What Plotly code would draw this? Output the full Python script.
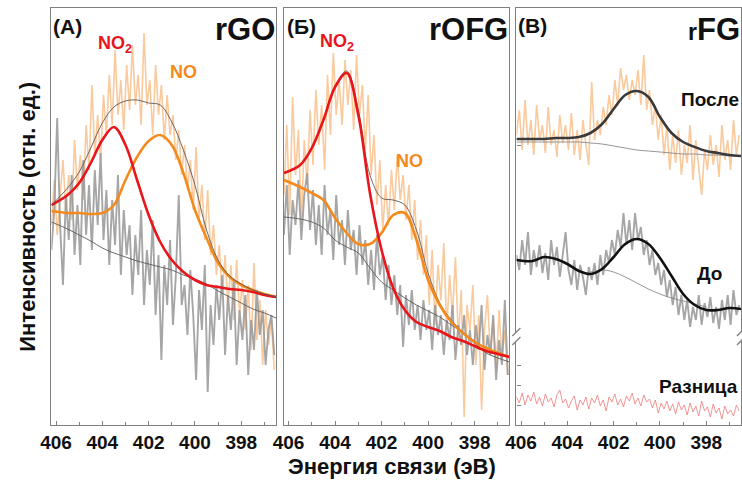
import numpy as np
import plotly.graph_objects as go

# ---- energy channels (eV) -------------------------------------------------
E_START = 406.2
E_STEP = 0.125

def channels(values):
    return E_START - E_STEP * np.arange(len(values))

# common energy grid of the fitted curves
FIT_EV = [406.2, 405.5, 405.0, 404.5, 404.0, 403.5, 403.0, 402.5, 402.0, 401.5,
          401.0, 400.5, 400.0, 399.5, 399.0, 398.5, 398.0, 397.5, 397.0, 396.5]

# ---- (A) rGO ---------------------------------------------------------------
rgo_after = [200, 245, 190, 230, 265, 215, 250, 205, 285, 235, 270, 225, 300, 255, 340, 270,
             310, 265, 330, 290, 350, 300, 375, 310, 345, 295, 360, 315, 380, 320, 350, 300,
             392, 320, 345, 290, 360, 310, 340, 285, 330, 290, 310, 265, 295, 250, 280, 235,
             265, 215, 278, 205, 240, 185, 235, 170, 200, 150, 180, 130, 170, 120, 160, 105,
             165, 110, 145, 95, 140, 75, 162, 85, 125, 60, 115, 80, 105, 55]
rgo_before = [175, 215, 307, 200, 140, 230, 185, 250, 170, 220, 160, 265, 190, 240, 175, 255,
              200, 272, 185, 235, 160, 225, 180, 250, 150, 215, 170, 200, 130, 190, 150, 215,
              120, 175, 140, 205, 110, 170, 65, 160, 120, 185, 100, 150, 230, 120, 140, 90,
              155, 110, 45, 135, 95, 160, 33, 120, 80, 140, 105, 150, 70, 130, 95, 145,
              60, 115, 85, 130, 50, 105, 75, 135, 90, 115, 60, 95, 110, 70]
rgo_no2 = [220, 230, 242, 262, 285, 298, 280, 245, 210, 183, 165, 153, 145, 140, 138, 136, 135, 133, 130, 128]
rgo_no = [214, 212, 212, 211, 212, 220, 245, 268, 284, 290, 280, 252, 215, 187, 162, 148, 140, 135, 131, 128]
rgo_bg = [203, 196, 190, 184, 177, 172, 168, 164, 161, 158, 155, 150, 146, 141, 134, 128, 122, 116, 112, 107]
rgo_sum = [220, 237, 253, 277, 302, 318, 324, 325, 322, 320, 303, 275, 240, 195, 165, 149, 141, 135, 131, 128]

# ---- (Б) rOFG --------------------------------------------------------------
rofg_after = [230, 300, 210, 328, 250, 295, 200, 285, 240, 315, 260, 335, 280, 320, 255, 350,
              290, 372, 310, 345, 300, 365, 320, 355, 295, 370, 310, 340, 275, 330, 250, 290,
              220, 265, 195, 240, 200, 255, 215, 270, 225, 250, 205, 240, 185, 225, 165, 205,
              150, 190, 120, 175, 100, 160, 125, 182, 95, 150, 110, 168, 85, 135, 8, 120,
              95, 140, 60, 110, 15, 95, 130, 70, 105, 55, 115, 65, 95, 50]
rofg_before = [190, 240, 170, 225, 200, 245, 185, 230, 252, 195, 235, 180, 220, 170, 240, 190,
               215, 165, 230, 180, 205, 160, 215, 175, 195, 150, 200, 160, 185, 140, 175, 135,
               190, 150, 170, 125, 160, 120, 150, 110, 140, 78, 130, 100, 135, 95, 120, 85,
               125, 95, 115, 75, 120, 90, 110, 70, 105, 85, 120, 65, 100, 80, 110, 70,
               95, 60, 100, 75, 120, 55, 90, 70, 110, 45, 85, 60, 125, 50]
rofg_no2 = [252, 260, 277, 305, 338, 352, 310, 232, 175, 137, 115, 103, 98, 94, 88, 84, 79, 74, 71, 68]
rofg_no = [245, 238, 232, 225, 207, 192, 181, 181, 192, 210, 212, 185, 145, 120, 103, 92, 83, 77, 72, 68]
rofg_bg = [208, 206, 203, 197, 185, 178, 172, 157, 143, 135, 127, 120, 114, 108, 100, 92, 82, 72, 67, 63]
rofg_sum = [252, 260, 277, 305, 339, 354, 315, 250, 227, 225, 220, 195, 152, 122, 105, 93, 84, 77, 72, 68]

# ---- (B) rFG ---------------------------------------------------------------
rfg_after = [290, 315, 275, 325, 280, 305, 270, 320, 285, 300, 272, 318, 280, 295, 268, 310,
             282, 300, 275, 312, 270, 295, 265, 305, 280, 260, 343, 285, 305, 290, 318, 300,
             330, 310, 345, 320, 357, 335, 350, 325, 345, 330, 355, 320, 370, 315, 335, 300,
             320, 285, 310, 270, 300, 255, 290, 262, 295, 250, 280, 262, 300, 245, 285, 258,
             230, 275, 255, 290, 260, 280, 248, 300, 265, 285, 255, 305, 270, 290]
rfg_after_fit = [286, 286, 286, 287, 287, 288, 292, 301, 316, 330, 334, 328, 308, 292, 283, 278, 274, 272, 270, 269]
rfg_after_bg = [283, 283, 283, 283, 283, 283, 282, 281, 279, 277, 275, 274, 273, 272, 271, 271, 270, 270, 269, 269]

rfg_before = [170, 155, 185, 160, 193, 150, 175, 158, 180, 152, 172, 145, 185, 160, 178, 148,
              170, 193, 155, 140, 165, 135, 160, 148, 130, 158, 145, 162, 140, 170, 150, 175,
              162, 185, 170, 195, 178, 212, 180, 205, 175, 212, 185, 198, 170, 185, 160, 175,
              150, 162, 140, 155, 128, 145, 120, 138, 110, 130, 105, 125, 98, 118, 105, 130,
              100, 122, 108, 128, 102, 118, 96, 125, 105, 130, 100, 135, 110, 120]
rfg_before_fit = [165, 164, 168, 166, 161, 154, 151, 156, 168, 181, 186, 181, 167, 149, 131, 120, 115, 115, 117, 116]
rfg_before_bg_ev = [403.0, 402.5, 402.0, 401.5, 401.0, 400.5, 400.0, 399.5, 399.0, 398.5, 398.0]
rfg_before_bg = [153, 155, 153, 148, 142, 136, 131, 127, 124, 121, 118]

rfg_diff = [28, 22, 32, 20, 30, 24, 33, 21, 28, 19, 31, 23, 27, 18, 30, 35, 22, 26, 17, 24,
            29, 15, 25, 20, 28, 16, 27, 22, 30, 19, 25, 14, 28, 23, 31, 20, 26, 18, 29, 24,
            32, 21, 27, 19, 30, 23, 26, 17, 25, 12, 22, 16, 24, 14, 21, 11, 23, 15, 20, 10,
            22, 13, 19, 9, 24, 14, 18, 8, 21, 12, 17, 6, 19, 11, 15, 9, 20, 14]

# ---- styling ----------------------------------------------------------------
FONT = "Liberation Sans"
C_RAW_OR = "rgba(246,165,90,0.6)"
C_RAW_GR = "rgba(150,150,150,0.85)"
C_RED = "#e8151b"
C_ORANGE = "#f48a1c"
C_THIN = "#5a5a5a"
FRAME = "#808080"

fig = go.Figure()

def raw(x, y, color, width, ax):
    fig.add_trace(go.Scatter(x=x, y=y, mode="lines", line=dict(color=color, width=width),
                             xaxis=ax[0], yaxis=ax[1], hoverinfo="skip"))

def fit(x, y, color, width, ax):
    fig.add_trace(go.Scatter(x=x, y=y, mode="lines",
                             line=dict(color=color, width=width, shape="spline", smoothing=1.0),
                             xaxis=ax[0], yaxis=ax[1], hoverinfo="skip"))

A = ("x", "y")
B = ("x2", "y2")
C = ("x3", "y3")

raw(channels(rgo_after), rgo_after, C_RAW_OR, 1.6, A)
raw(channels(rgo_before), rgo_before, C_RAW_GR, 1.9, A)
fit(FIT_EV, rgo_bg, C_THIN, 0.9, A)
fit(FIT_EV, rgo_no, C_ORANGE, 2.6, A)
fit(FIT_EV, rgo_no2, C_RED, 2.6, A)
fit(FIT_EV, rgo_sum, C_THIN, 0.9, A)

raw(channels(rofg_after), rofg_after, C_RAW_OR, 1.6, B)
raw(channels(rofg_before), rofg_before, C_RAW_GR, 1.9, B)
fit(FIT_EV, rofg_bg, C_THIN, 0.9, B)
fit(FIT_EV, rofg_sum, C_THIN, 0.9, B)
fit(FIT_EV, rofg_no, C_ORANGE, 2.6, B)
fit(FIT_EV, rofg_no2, C_RED, 2.6, B)

raw(channels(rfg_after), rfg_after, C_RAW_OR, 1.6, C)
fit(FIT_EV, rfg_after_bg, "#8a8a8a", 0.9, C)
fit(FIT_EV, rfg_after_fit, "#3a3a3a", 2.6, C)
raw(channels(rfg_before), rfg_before, C_RAW_GR, 1.9, C)
fit(rfg_before_bg_ev, rfg_before_bg, "#8a8a8a", 0.9, C)
fit(FIT_EV, rfg_before_fit, "#111111", 2.6, C)
fig.add_trace(go.Scatter(x=channels(rfg_diff), y=rfg_diff, mode="lines",
                         line=dict(color="#f07a7a", width=0.8), xaxis="x3", yaxis="y3",
                         hoverinfo="skip"))

# ---- axes -------------------------------------------------------------------
W, H = 742, 480
TOP, BOTTOM = 8, 425
ydom = [(H - BOTTOM) / H, (H - TOP) / H]
xdoms = [[41 / W, 269 / W], [277 / W, 506 / W], [513 / W, 741 / W]]
XTICKS = [406, 404, 402, 400, 398]

def xaxis(dom):
    return dict(domain=dom, range=[406.2, 396.5], tickvals=XTICKS, ticktext=[str(v) for v in XTICKS],
                showline=True, linecolor=FRAME, linewidth=1.3, mirror=True, showgrid=False,
                zeroline=False, ticks="inside", ticklen=4, tickcolor=FRAME,
                minor=dict(tickvals=[405, 403, 401, 399, 397], ticks="inside", ticklen=3, tickcolor=FRAME),
                tickfont=dict(family=FONT, size=19, color="#111", weight="bold"))

def yaxis(anchor, ticks=None):
    d = dict(domain=ydom, range=[0, 417], anchor=anchor, showline=True, linecolor=FRAME, linewidth=1.3,
             mirror=True, showgrid=False, zeroline=False, showticklabels=False)
    if ticks:
        d.update(tickvals=ticks, ticks="inside", ticklen=4, tickcolor=FRAME)
    else:
        d.update(ticks="")
    return d

fig.update_layout(
    width=W, height=H, margin=dict(l=0, r=0, t=0, b=0),
    paper_bgcolor="white", plot_bgcolor="white", showlegend=False,
    xaxis=dict(xaxis(xdoms[0]), anchor="y"),
    xaxis2=dict(xaxis(xdoms[1]), anchor="y2"),
    xaxis3=dict(xaxis(xdoms[2]), anchor="y3"),
    yaxis=yaxis("x"),
    yaxis2=yaxis("x2"),
    yaxis3=yaxis("x3", ticks=[280, 60, 40, 20]),
)

# axis break on the rFG panel
shapes = []
for xd in (0.0, 1.0):
    shapes.append(dict(type="rect", xref="x3 domain", yref="y3", x0=xd - 0.02, x1=xd + 0.02,
                       y0=84, y1=93, fillcolor="white", line=dict(width=0), layer="above"))
    for y0 in (80, 89):
        shapes.append(dict(type="line", xref="x3 domain", yref="y3", x0=xd - 0.018, x1=xd + 0.018,
                           y0=y0, y1=y0 + 8, line=dict(color=FRAME, width=1.3), layer="above"))
fig.update_layout(shapes=shapes)

# ---- text -------------------------------------------------------------------
def label(x, y, text, size, color="#111", xanchor="left", angle=0):
    fig.add_annotation(x=x / W, y=(H - y) / H, xref="paper", yref="paper", text=text,
                       showarrow=False, xanchor=xanchor, yanchor="middle", textangle=angle,
                       font=dict(family=FONT, size=size, color=color, weight="bold"))

label(41, 26, "(A)", 21)
label(270, 29, "rGO", 31, xanchor="right")
label(86, 44, "NO<sub>2</sub>", 18, C_RED)
label(159, 72, "NO", 18, C_ORANGE)

label(278, 26, "(Б)", 21)
label(507, 29, "rOFG", 31, xanchor="right")
label(312, 42, "NO<sub>2</sub>", 18, C_RED)
label(389, 161, "NO", 18, C_ORANGE)

label(513, 25, "(B)", 21)
label(742, 29, "<span style='font-size:23px'>r</span>FG", 31, xanchor="right")
label(741, 99, "После", 19, xanchor="right")
label(724, 273, "До", 19, xanchor="right")
label(740, 386, "Разница", 19, xanchor="right")

label(387, 466, "Энергия связи (эВ)", 22, xanchor="center")
label(17, 217, "Интенсивность (отн. ед.)", 22, xanchor="center", angle=-90)

fig.write_html("out.html")
